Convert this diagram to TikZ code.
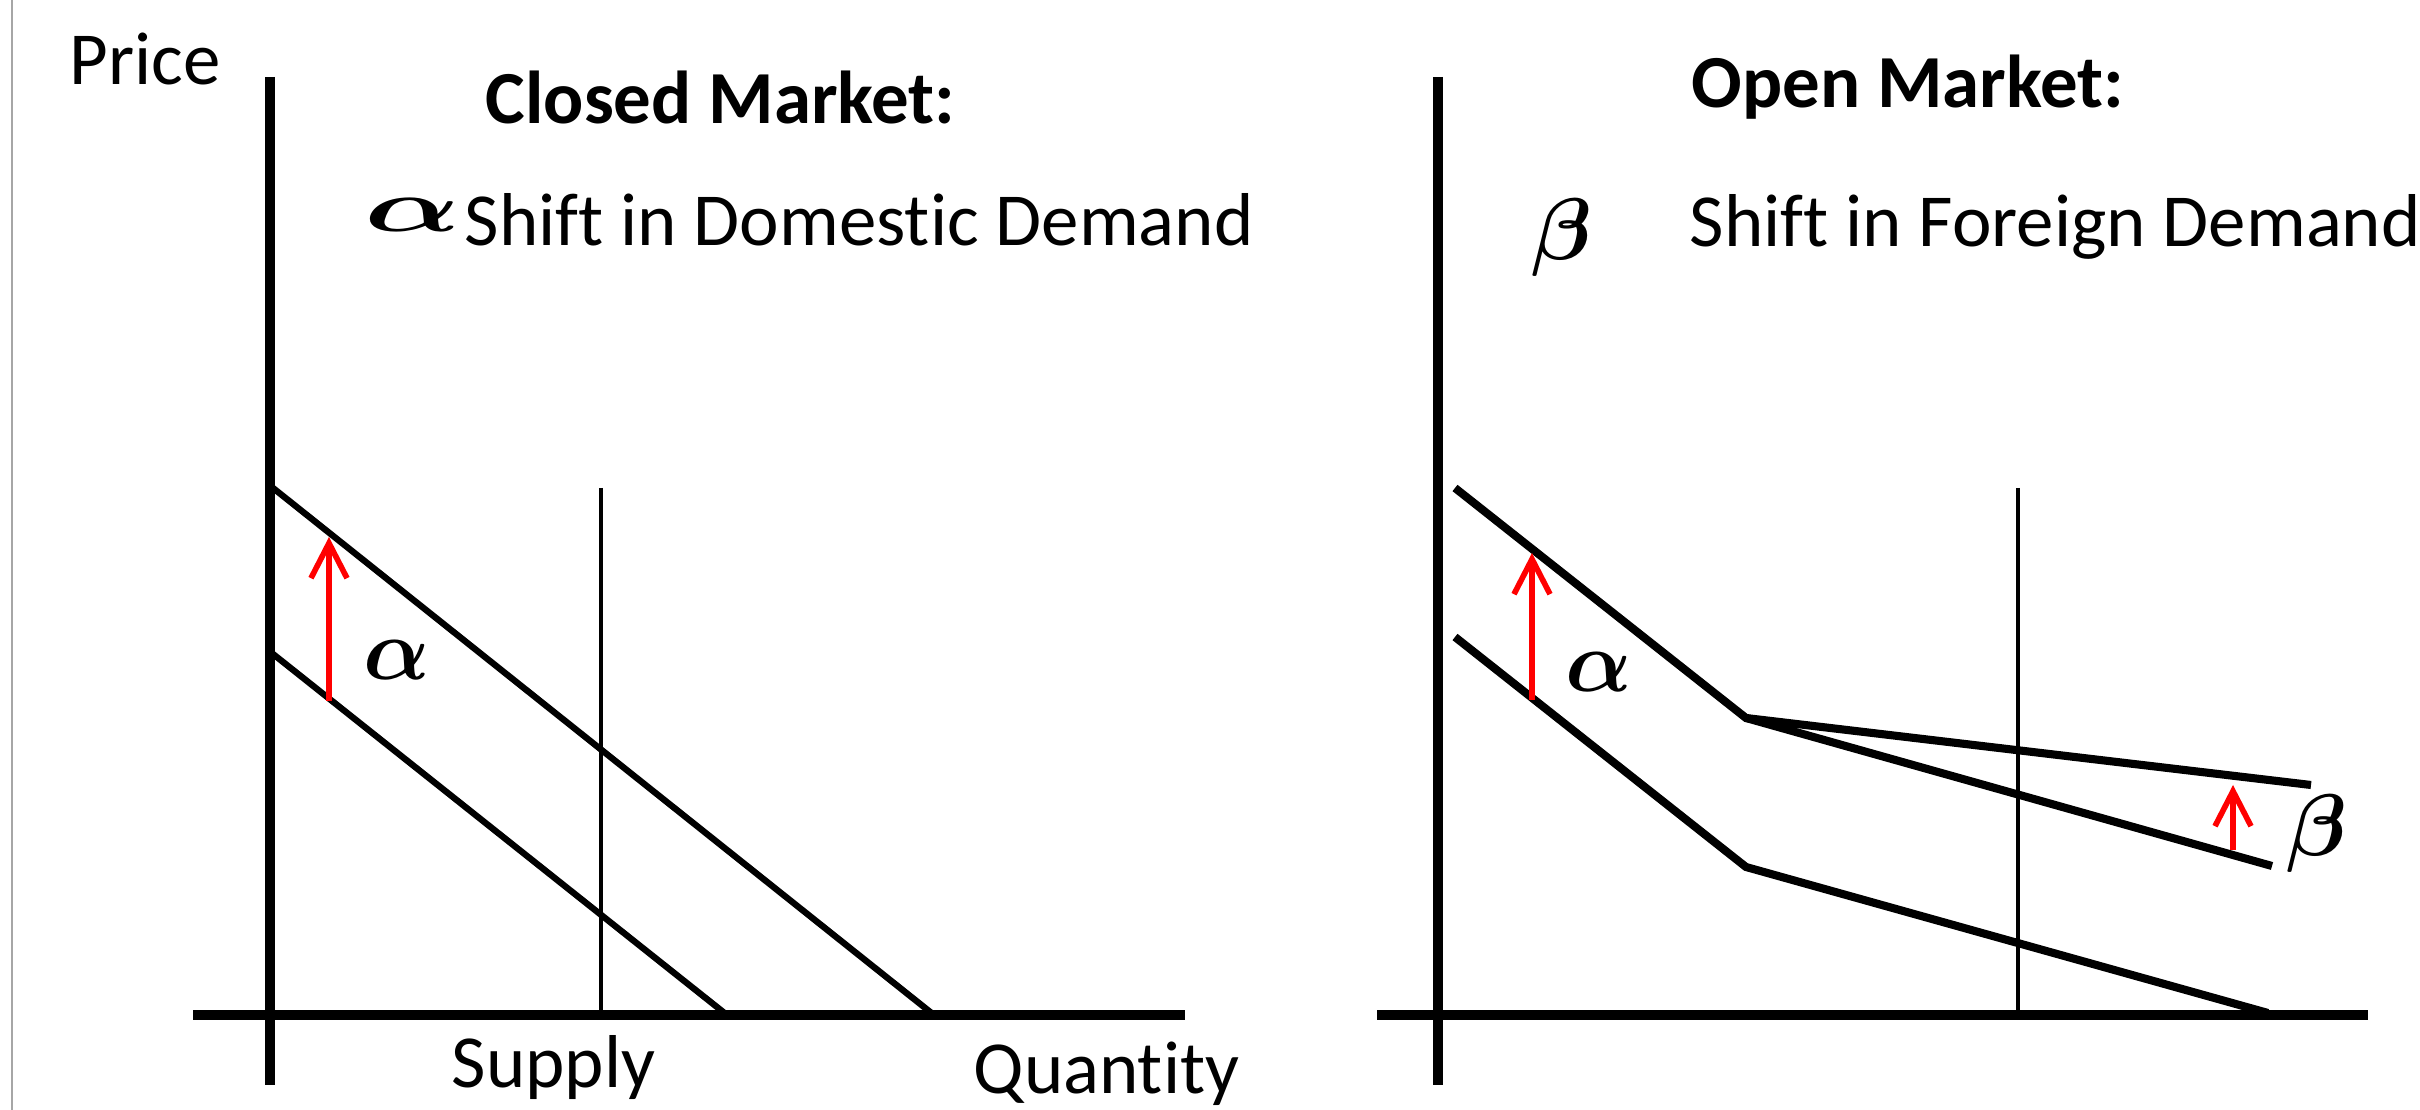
\documentclass[tikz,border=0pt]{standalone}
\usepackage{amsmath}
\usepackage{fontspec}
\setmainfont{Carlito}[Ligatures=NoCommon]
\usetikzlibrary{arrows.meta}

\begin{document}
\begin{tikzpicture}[x=0.01cm,y=-0.01cm,
  axis/.style={line width=2.9pt},
  demand/.style={line width=1.8pt},
  opendemand/.style={line width=2.3pt},
  supply/.style={line width=1.1pt},
  shiftarrow/.style={red,line width=1.6pt,-{Straight Barb[length=3.5mm,width=3.6mm]}},
  lbl/.style={font=\fontsize{21.3}{25}\selectfont,inner sep=0pt,anchor=base west},
  greek/.style={font=\fontsize{29}{34}\selectfont\boldmath,inner sep=0pt}]
\useasboundingbox (0,0) rectangle (2420,1110);
\draw[gray!70,line width=0.6pt] (12,0) -- (12,1110);

% closed market
\node[lbl] (price) at (69,85) {Price};
\node[lbl,font=\fontsize{21.3}{25}\selectfont\bfseries] (closed) at (485,124) {Closed Market:};
\node[greek,xscale=1.45,yscale=0.85] (alphahead) at (413,215) {$\alpha$};
\node[lbl] (domestic) at (464,246) {Shift in Domestic Demand};
\draw[axis] (270,77) -- (270,1085);
\draw[axis] (193,1015) -- (1185,1015);
\draw[supply] (601,488) -- (601,1015);
\draw[demand] (273,488) -- (934,1015);
\draw[demand] (273,654) -- (727,1015);
\draw[shiftarrow] (329,701) -- (329,537);
\node[greek] (alphaleft) at (397,660) {$\alpha$};
\node[lbl] (supply) at (451,1088) {Supply};
\node[lbl] (quantity) at (973,1094) {Quantity};

% open market
\node[lbl,font=\fontsize{21.3}{25}\selectfont\bfseries] (open) at (1691,108) {Open Market:};
\node[greek] (betahead) at (1562,238) {$\beta$};
\node[lbl] (foreign) at (1689,247) {Shift in Foreign Demand};
\draw[axis] (1438,77) -- (1438,1085);
\draw[axis] (1377,1015) -- (2368,1015);
\draw[supply] (2018,488) -- (2018,1015);
\coordinate (kinkhi) at (1746,718);
\coordinate (kinklo) at (1746,867);
\draw[opendemand] (1455,488) -- (kinkhi) -- (2311,785);
\draw[opendemand] (kinkhi) -- (2272,866);
\draw[opendemand] (1455,637) -- (kinklo) -- (2268,1013);
\draw[shiftarrow] (1532,700) -- (1532,553);
\node[greek] (alpharight) at (1599,672) {$\alpha$};
\draw[shiftarrow] (2233,850) -- (2233,785);
\node[greek] (betaright) at (2317,834) {$\beta$};
\end{tikzpicture}
\end{document}
